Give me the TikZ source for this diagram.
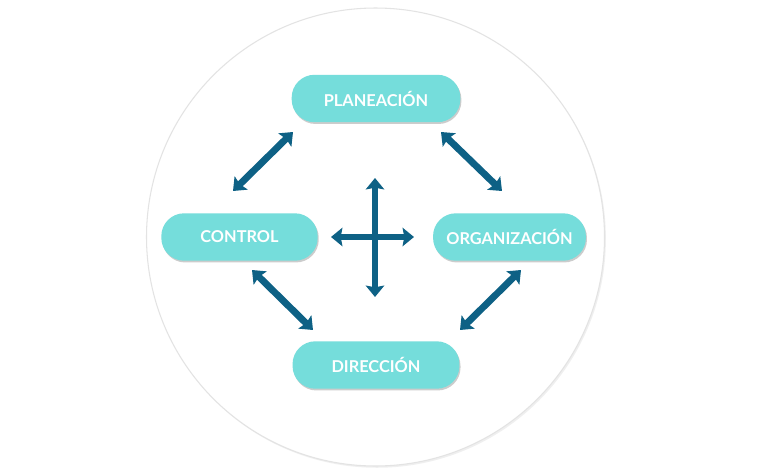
\documentclass[tikz,border=0pt]{standalone}
\usepackage{fontspec}
\setmainfont{Lato}
\usetikzlibrary{arrows.meta,shadows}
\definecolor{boxteal}{HTML}{75DDDB}
\definecolor{arrowblue}{HTML}{0E6185}
\tikzset{
  stage/.style={rounded corners=13pt, fill=boxteal, text=white,
    minimum height=27pt, font=\fontsize{9.3}{11}\selectfont\bfseries,
    drop shadow={shadow xshift=0.6pt, shadow yshift=-1pt, opacity=0.4, fill=gray}},
  link/.style={draw=arrowblue, line width=3.9pt,
    {Stealth[length=6.5pt,width=10.5pt,inset=1pt]}-{Stealth[length=6.5pt,width=10.5pt,inset=1pt]}}
}
\begin{document}
\begin{tikzpicture}[x=0.02cm,y=-0.02cm]
\useasboundingbox (0,0) rectangle (768,474);
\fill[white] (0,0) rectangle (768,474);
\draw[draw=gray!22, line width=0.6pt, fill=white,
  drop shadow={shadow xshift=0.8pt, shadow yshift=-1pt, opacity=0.12, fill=gray}]
  (375.5,237) circle[radius=229];
\node[stage, minimum width=96pt] (plan) at (376,98.5) {PLANEACIÓN};
\node[stage, minimum width=89pt] (ctrl) at (239.5,237) {CONTROL};
\node[stage, minimum width=87pt] (org) at (509.5,237) {ORGANIZACIÓN};
\node[stage, minimum width=95pt] (dir) at (376,365) {DIRECCIÓN};
\coordinate (pc1) at (293,132);
\coordinate (pc2) at (233,191);
\coordinate (po1) at (441,132);
\coordinate (po2) at (502,191);
\coordinate (od1) at (521,270);
\coordinate (od2) at (460,330);
\coordinate (cd1) at (252,270);
\coordinate (cd2) at (313,330);
\coordinate (up) at (375,178);
\coordinate (down) at (375,297);
\coordinate (left) at (331,237);
\coordinate (right) at (414,237);
\draw[link] (pc1) -- (pc2);
\draw[link] (po1) -- (po2);
\draw[link] (od1) -- (od2);
\draw[link] (cd1) -- (cd2);
\draw[link] (up) -- (down);
\draw[link] (left) -- (right);
\end{tikzpicture}
\end{document}
